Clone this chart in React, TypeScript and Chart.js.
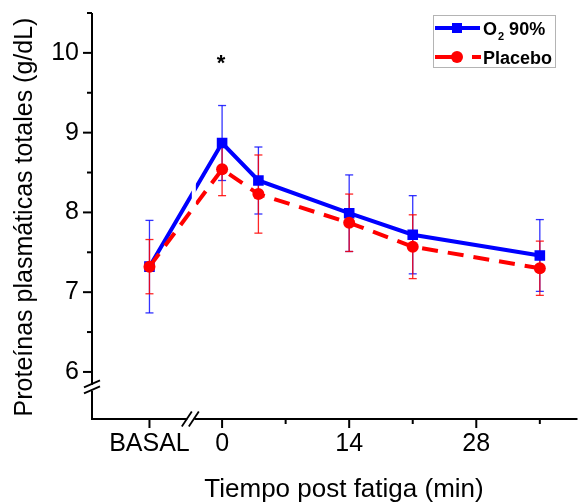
import { useEffect, useRef } from "react";
import { Chart, registerables } from "chart.js";

Chart.register(...registerables);

const FONT = '"Liberation Sans", Arial, Helvetica, sans-serif';

// ---- data ----
const timePoints = [-8, 0, 4, 14, 21, 35]; // -8 = BASAL (left of axis break)
const o2Mean = [7.32, 8.87, 8.4, 7.99, 7.72, 7.46];
const o2Err = [0.58, 0.47, 0.42, 0.48, 0.49, 0.45];
const placeboMean = [7.32, 8.54, 8.23, 7.87, 7.57, 7.3];
const placeboErr = [0.34, 0.33, 0.49, 0.36, 0.4, 0.34];

const xTickValues = [-8, 0, 7, 14, 21, 28, 35];
const xTickLabels = ["BASAL", "0", "", "14", "", "28", ""];
const yTickValues = [6, 6.5, 7, 7.5, 8, 8.5, 9, 9.5, 10, 10.5];

const xTitle = "Tiempo post fatiga (min)";
const yTitle = "Proteínas plasmáticas totales (g/dL)";
const legendO2 = ["O", "2", " 90%"];
const legendPlacebo = "Placebo";
const significanceMark = "*";
const significanceTime = 0;
const significanceValue = 9.9;
const breakTime = -3.5; // x-axis break position (min)
const breakValue = 5.8; // y-axis break position

const X_MIN = -14.33;
const X_MAX = 39.15;
const Y_MIN = 5.41;
const Y_MAX = 10.5;

const BLUE = "#0000ff";
const RED = "#ff0000";

function line(ctx: CanvasRenderingContext2D, x1: number, y1: number, x2: number, y2: number) {
  ctx.beginPath();
  ctx.moveTo(x1, y1);
  ctx.lineTo(x2, y2);
  ctx.stroke();
}

const customPlugin = {
  id: "custom",
  beforeDatasetsDraw(chart: any) {
    const { ctx, scales } = chart;
    const x = scales.x;
    const y = scales.y;
    const sets = [...chart.data.datasets].sort((a: any, b: any) => b.order - a.order);
    ctx.save();
    sets.forEach((ds: any) => {
      ctx.strokeStyle = ds.errorColor;
      ctx.lineWidth = 1.3;
      ds.data.forEach((p: any, i: number) => {
        const e = ds.errors[i];
        const px = x.getPixelForValue(p.x);
        const top = y.getPixelForValue(p.y + e);
        const bot = y.getPixelForValue(p.y - e);
        line(ctx, px, top, px, bot);
        line(ctx, px - 4, top, px + 4, top);
        line(ctx, px - 4, bot, px + 4, bot);
      });
    });
    ctx.restore();
  },
  afterDatasetsDraw(chart: any) {
    const { ctx, chartArea, scales } = chart;
    const bx = scales.x.getPixelForValue(breakTime);
    ctx.save();
    ctx.fillStyle = "#ffffff";
    ctx.fillRect(bx + 1.5, chartArea.top, 4, chartArea.bottom - chartArea.top - 2);
    ctx.restore();
  },
  afterDraw(chart: any) {
    const { ctx, chartArea, scales } = chart;
    const x = scales.x;
    const y = scales.y;
    const L = chartArea.left;
    const B = chartArea.bottom;
    const T = chartArea.top;
    const R = chartArea.right;
    ctx.save();
    ctx.strokeStyle = "#000";
    ctx.lineWidth = 2;
    ctx.lineCap = "butt";
    // axes
    line(ctx, L, T, L, B + 1);
    line(ctx, L - 1, B, R, B);
    // y ticks
    yTickValues.forEach((v) => {
      const py = y.getPixelForValue(v);
      const len = Number.isInteger(v) ? 9 : 5;
      line(ctx, L - len, py, L, py);
    });
    // x ticks
    xTickValues.forEach((v, i) => {
      const px = x.getPixelForValue(v);
      const len = xTickLabels[i] ? 9 : 5;
      line(ctx, px, B, px, B + len);
    });
    // y-axis break
    const by = y.getPixelForValue(breakValue);
    ctx.fillStyle = "#fff";
    ctx.fillRect(L - 3, by - 3, 6, 6);
    ctx.lineWidth = 1.8;
    line(ctx, L - 8, by - 0.5, L + 8, by - 7.5);
    line(ctx, L - 8, by + 5.5, L + 8, by - 1.5);
    // x-axis break
    const bx = x.getPixelForValue(breakTime);
    ctx.fillStyle = "#fff";
    ctx.fillRect(bx - 3, B - 3, 7, 6);
    line(ctx, bx - 8.5, B + 7.5, bx + 1.5, B - 7.5);
    line(ctx, bx - 1.5, B + 7.5, bx + 8.5, B - 7.5);

    // titles
    ctx.fillStyle = "#000";
    ctx.font = `26px ${FONT}`;
    ctx.textAlign = "center";
    ctx.textBaseline = "alphabetic";
    ctx.fillText(xTitle, 344, 497);
    ctx.save();
    ctx.translate(32, (T + B) / 2 + 1);
    ctx.rotate(-Math.PI / 2);
    ctx.font = `25px ${FONT}`;
    ctx.fillText(yTitle, 0, 0);
    ctx.restore();

    // significance mark
    ctx.font = `bold 22px ${FONT}`;
    ctx.textAlign = "center";
    ctx.fillText(significanceMark, x.getPixelForValue(significanceTime) - 1, y.getPixelForValue(significanceValue) + 9);

    // legend
    ctx.strokeStyle = "#b4b4b4";
    ctx.lineWidth = 1;
    ctx.strokeRect(433.5, 15.5, 122, 52);
    // O2 row
    ctx.strokeStyle = BLUE;
    ctx.lineWidth = 4;
    line(ctx, 435, 28, 480, 28);
    ctx.fillStyle = BLUE;
    ctx.fillRect(452, 23, 10, 10);
    // Placebo row
    ctx.strokeStyle = RED;
    line(ctx, 435, 57, 460, 57);
    line(ctx, 472, 57, 481, 57);
    ctx.fillStyle = RED;
    ctx.beginPath();
    ctx.arc(457, 57, 6, 0, Math.PI * 2);
    ctx.fill();
    ctx.fillStyle = "#000";
    ctx.textAlign = "left";
    ctx.font = `bold 18px ${FONT}`;
    ctx.fillText(legendO2[0], 483, 34.5);
    let cx = 483 + ctx.measureText(legendO2[0]).width + 1;
    ctx.font = `bold 11px ${FONT}`;
    ctx.fillText(legendO2[1], cx, 40);
    cx += ctx.measureText(legendO2[1]).width;
    ctx.font = `bold 18px ${FONT}`;
    ctx.fillText(legendO2[2], cx, 34.5);
    ctx.fillText(legendPlacebo, 483, 63.5);
    ctx.restore();
  },
};

export default function App() {
  const ref = useRef<HTMLCanvasElement>(null);
  useEffect(() => {
    document.body.style.margin = "0";
    const chart = new Chart(ref.current as HTMLCanvasElement, {
      type: "line",
      data: {
        datasets: [
          {
            label: legendPlacebo,
            data: timePoints.map((t, i) => ({ x: t, y: placeboMean[i] })),
            errors: placeboErr,
            errorColor: "rgba(255,0,0,0.85)",
            borderColor: RED,
            backgroundColor: RED,
            borderWidth: 4,
            borderDash: [16, 10],
            pointStyle: "circle",
            pointRadius: 6,
            pointBorderWidth: 0,
            tension: 0,
            order: 0,
          } as any,
          {
            label: legendO2.join(""),
            data: timePoints.map((t, i) => ({ x: t, y: o2Mean[i] })),
            errors: o2Err,
            errorColor: "rgba(0,0,255,0.8)",
            borderColor: BLUE,
            backgroundColor: BLUE,
            borderWidth: 4,
            pointStyle: "rect",
            pointRadius: 7.5,
            pointBorderWidth: 0,
            tension: 0,
            order: 1,
          } as any,
        ],
      },
      options: {
        responsive: false,
        devicePixelRatio: 1,
        animation: false,
        layout: { padding: { top: 13, left: 0, right: 0, bottom: 0 } },
        plugins: { legend: { display: false }, tooltip: { enabled: false } },
        scales: {
          x: {
            type: "linear",
            min: X_MIN,
            max: X_MAX,
            grid: { display: false, drawTicks: false },
            border: { display: false },
            ticks: {
              padding: 10,
              color: "#000",
              font: { family: FONT, size: 25 },
              autoSkip: false,
              maxRotation: 0,
              callback: (value: any) => {
                const i = xTickValues.indexOf(Number(value));
                return i >= 0 ? xTickLabels[i] : "";
              },
            },
            afterBuildTicks: (s: any) => {
              s.ticks = xTickValues.map((v) => ({ value: v }));
            },
            afterFit: (s: any) => {
              s.height = 85;
              s.paddingLeft = 0;
              s.paddingRight = 0;
            },
          },
          y: {
            type: "linear",
            min: Y_MIN,
            max: Y_MAX,
            grid: { display: false, drawTicks: false },
            border: { display: false },
            ticks: {
              padding: 13,
              color: "#000",
              font: { family: FONT, size: 25 },
              autoSkip: false,
              callback: (value: any) => (Number.isInteger(Number(value)) ? String(value) : ""),
            },
            afterBuildTicks: (s: any) => {
              s.ticks = yTickValues.map((v) => ({ value: v }));
            },
            afterFit: (s: any) => {
              s.width = 92;
              s.paddingTop = 0;
              s.paddingBottom = 0;
            },
          },
        },
      },
      plugins: [customPlugin],
    });
    return () => chart.destroy();
  }, []);
  return <canvas ref={ref} width={585} height={504} style={{ display: "block" }} />;
}
